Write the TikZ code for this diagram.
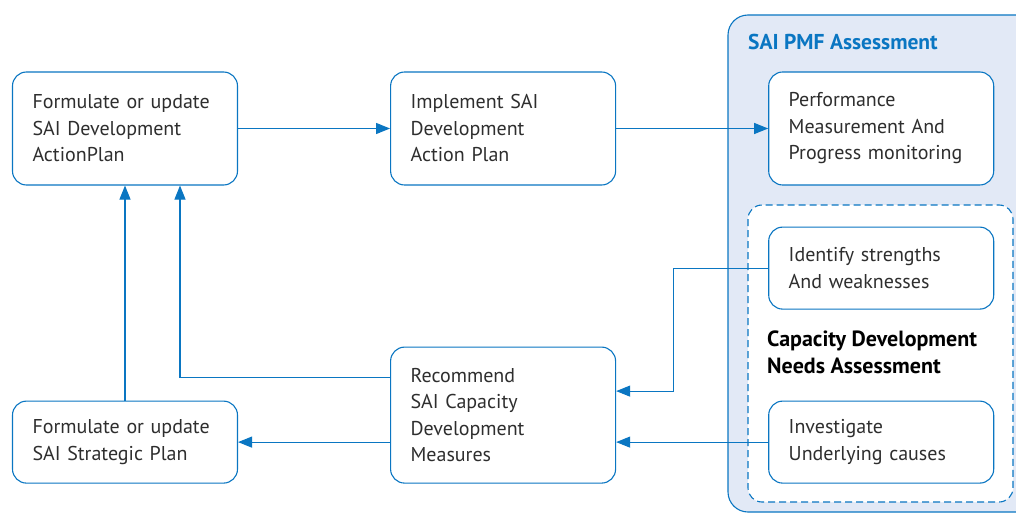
\documentclass[tikz,border=0pt]{standalone}
\usepackage{fontspec}
\setmainfont{PT Sans}
\usetikzlibrary{positioning, arrows.meta}
\definecolor{pmfblue}{HTML}{0A76C2}
\definecolor{pmfpanel}{HTML}{E2E9F6}
\definecolor{pmftext}{HTML}{2E2E2E}
\tikzset{Step/.style={%
    shape=rectangle,%
    draw=pmfblue,%
    fill=white,%
    rounded corners=14pt,%
    line width=1.1pt,%
    text=pmftext,%
    text width=185pt,%
    inner xsep=20pt,%
    minimum height=113pt,%
    align=left,%
    font=\fontsize{20}{26.5}\selectfont,%
}}
\tikzset{FlowEdge/.style={%
    -{Triangle[length=14pt,width=11pt]},
    draw=pmfblue,%
    line width=1.1pt,%
}}

\begin{document}
\begin{tikzpicture}[x=1pt, y=-1pt]
    \useasboundingbox (0,0) rectangle (1016,513);
    % PMF panel and dashed needs box
    \begin{scope}
        \clip (0,0) rectangle (1016,513);
        \draw[pmfblue, fill=pmfpanel, line width=1.1pt, rounded corners=20pt] (728,15) rectangle (1060,512);
    \end{scope}
    \draw[pmfblue, fill=white, line width=1.1pt, dashed, dash pattern=on 7pt off 4pt, rounded corners=14pt] (748,205) rectangle (1013,502);
    \node[anchor=base west, inner sep=0pt, text=pmfblue, font=\fontsize{21.5}{24}\selectfont\bfseries] (pmf) at (748,50) {SAI PMF Assessment};
    \node[anchor=base west, inner sep=0pt, text=black, align=left, font=\fontsize{22}{27}\selectfont\bfseries] (cdna) at (767,373) {Capacity Development\\Needs Assessment};

    \node[Step] (plan) at (125,128.5) {Formulate or update\\SAI Development\\ActionPlan};
    \node[Step, right=152pt of plan] (impl) {Implement SAI\\Development\\Action Plan};
    \node[Step, right=152pt of impl] (perf) {Performance\\Measurement And\\Progress monitoring};
    \node[Step, minimum height=82pt, below=41pt of perf] (ident) {Identify strengths\\And weaknesses};
    \node[Step, minimum height=82pt, below=215pt of perf] (invest) {Investigate\\Underlying causes};
    \node[Step, minimum height=136pt, below=161pt of impl] (recom) {Recommend\\SAI Capacity\\Development\\Measures};
    \node[Step, minimum height=82pt, below=215pt of plan] (strat) {Formulate or update\\SAI Strategic Plan};

    \path (plan) edge[FlowEdge] (impl);
    \path (impl) edge[FlowEdge] (perf);
    \path (strat) edge[FlowEdge] (plan);
    \draw[FlowEdge] ([yshift=38pt]recom.west) -| ([xshift=55pt]plan.south);
    \draw[FlowEdge] (ident.west) -- ++(-95pt,0) |- ([yshift=24pt]recom.east);
    \draw[FlowEdge] (invest.west) -- (recom.east |- invest.west);
    \draw[FlowEdge] (recom.west |- strat.east) -- (strat.east);
\end{tikzpicture}
\end{document}
